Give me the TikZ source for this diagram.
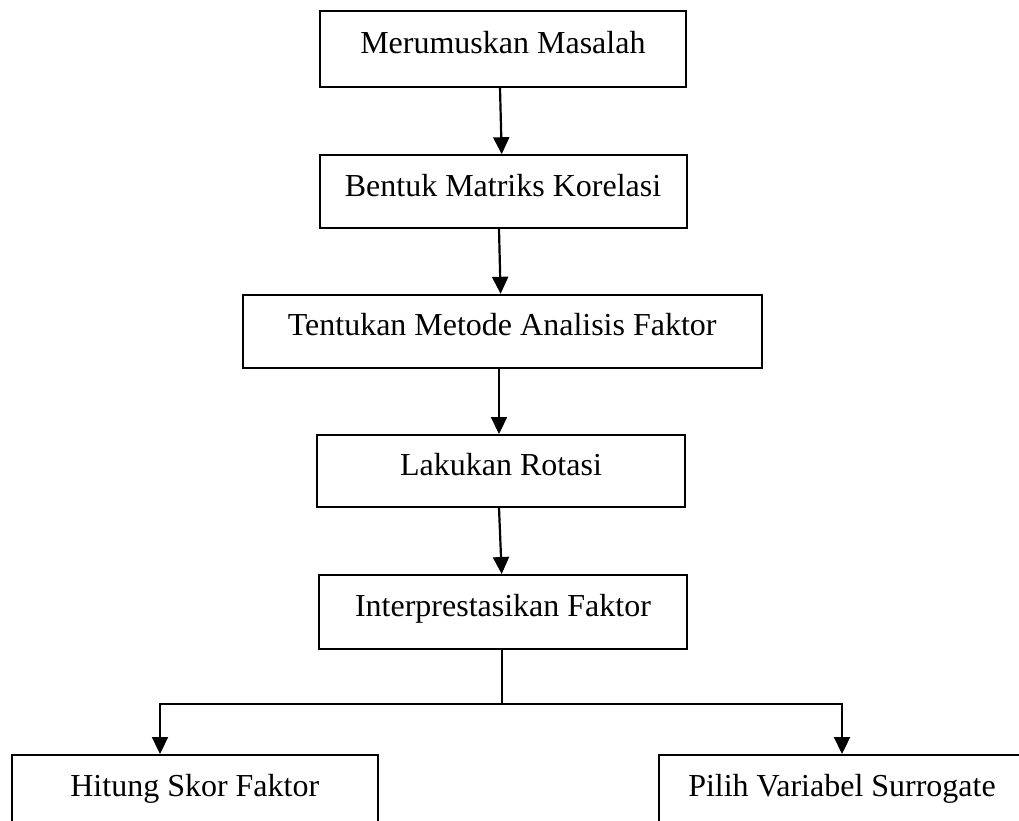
\documentclass[tikz,border=0pt]{standalone}
\usepackage{fontspec}
\setmainfont{Liberation Serif}
\usetikzlibrary{arrows.meta}
\tikzset{
  stepbox/.style={draw=black, line width=2pt, rectangle, inner sep=0pt, font=\fontsize{32}{38}\selectfont},
  conn/.style={draw=black, line width=2.2pt},
  arr/.style={conn, -{Triangle[width=16pt,length=17pt]}}
}
\newcommand{\rz}[1]{\raisebox{13pt}{#1}}
\begin{document}
\begin{tikzpicture}[x={(1pt,0)}, y={(0,-1pt)}]
\useasboundingbox (0,0) rectangle (1019,820);
\node[stepbox, minimum width=366pt, minimum height=76pt] (b1) at (502.9,49) {\rz{Merumuskan Masalah}};
\node[stepbox, minimum width=367pt, minimum height=73pt] (b2) at (503,191.7) {\rz{Bentuk Matriks Korelasi}};
\node[stepbox, minimum width=519pt, minimum height=73pt] (b3) at (502.2,331.3) {\rz{Tentukan Metode Analisis Faktor}};
\node[stepbox, minimum width=368pt, minimum height=72pt] (b4) at (501,471) {\rz{Lakukan Rotasi}};
\node[stepbox, minimum width=368pt, minimum height=74pt] (b5) at (503,612) {\rz{Interprestasikan Faktor}};
\node[stepbox, minimum width=366pt, minimum height=74pt] (b6) at (194.8,792) {\rz{Hitung Skor Faktor}};
\node[stepbox, minimum width=366pt, minimum height=74pt] (b7) at (842,792) {\rz{Pilih Variabel Surrogate}};
\coordinate (j) at (502,704);
\draw[arr] ([xshift=-2.9pt]b1.south) -- ([xshift=-1.3pt]b2.north);
\draw[arr] ([xshift=-4pt]b2.south) -- ([xshift=-1.6pt]b3.north);
\draw[arr] ([xshift=-3.2pt]b3.south) -- ([xshift=-2pt]b4.north);
\draw[arr] ([xshift=-2pt]b4.south) -- ([xshift=-1.3pt]b5.north);
\draw[conn] ([xshift=-1pt]b5.south) -- (j);
\draw[arr] (j) -| ([xshift=-34.8pt]b6.north);
\draw[arr] (j) -| (b7.north);
\end{tikzpicture}
\end{document}
